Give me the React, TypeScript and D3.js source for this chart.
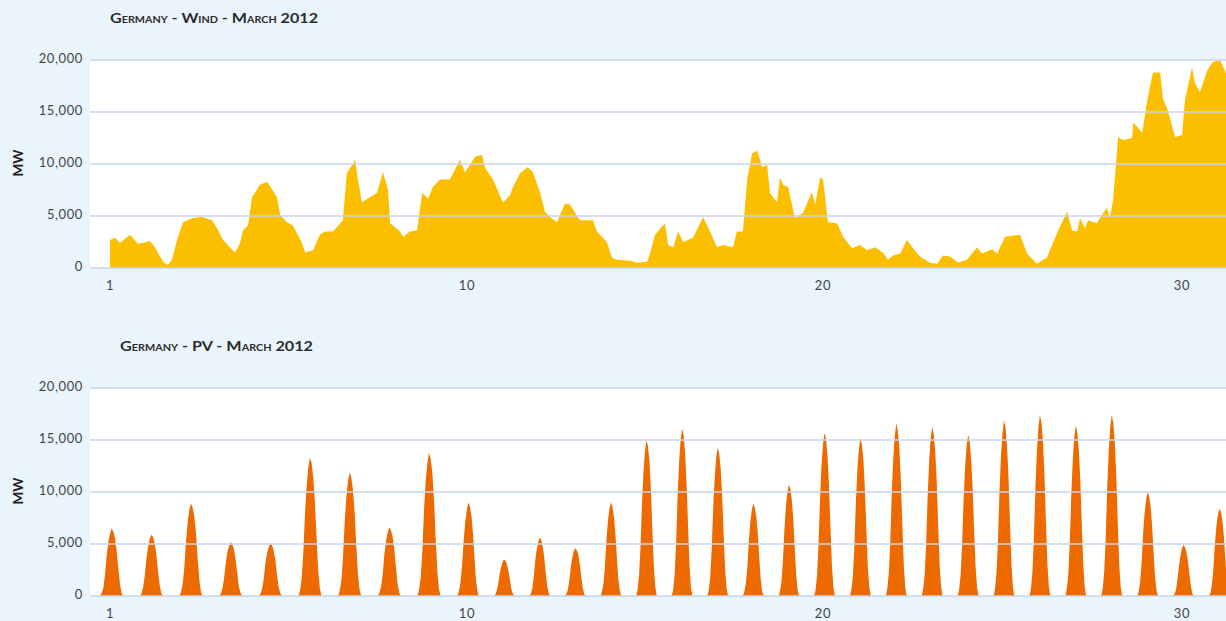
import { useEffect } from 'react';
import * as d3 from 'd3';

// wind: time position (day on the axis) and MW
const windT = [
  1.0, 1.13, 1.25, 1.5, 1.71, 2.01, 2.13, 2.34, 2.46, 2.56, 2.69, 2.84, 3.09, 3.32, 3.57, 3.7, 3.85,
  4.15, 4.28, 4.35, 4.48, 4.58, 4.78, 4.96, 5.21, 5.29, 5.46, 5.61, 5.84, 5.92, 6.12, 6.29, 6.42,
  6.62, 6.87, 6.97, 7.18, 7.25, 7.35, 7.55, 7.73, 7.88, 8.01, 8.06, 8.31, 8.39, 8.56, 8.74, 8.87,
  9.02, 9.14, 9.32, 9.57, 9.65, 9.82, 9.95, 10.23, 10.42, 10.51, 10.73, 11.01, 11.21, 11.29, 11.49,
  11.71, 11.85, 12.05, 12.19, 12.33, 12.53, 12.75, 12.89, 13.17, 13.54, 13.65, 13.93, 14.07, 14.21,
  14.58, 14.78, 15.06, 15.14, 15.28, 15.56, 15.65, 15.79, 15.93, 16.07, 16.35, 16.63, 16.83, 17.02,
  17.19, 17.47, 17.58, 17.75, 17.87, 18.01, 18.15, 18.29, 18.43, 18.51, 18.71, 18.79, 18.88, 19.02,
  19.21, 19.44, 19.55, 19.69, 19.78, 19.92, 20.0, 20.14, 20.39, 20.56, 20.81, 21.03, 21.23, 21.45,
  21.67, 21.81, 21.95, 22.15, 22.34, 22.51, 22.7, 22.98, 23.18, 23.34, 23.54, 23.76, 24.01, 24.29,
  24.43, 24.71, 24.85, 25.07, 25.49, 25.68, 25.96, 26.24, 26.32, 26.55, 26.8, 26.94, 27.08, 27.16,
  27.3, 27.38, 27.63, 27.77, 27.91, 27.99, 28.08, 28.22, 28.36, 28.61, 28.64, 28.77, 28.89, 29.03,
  29.19, 29.39, 29.47, 29.6, 29.81, 30.0, 30.08, 30.28, 30.36, 30.5, 30.7, 30.86, 31.06, 31.23,
  31.5, 31.95,
];
const windMW = [
  2700, 2900, 2400, 3200, 2300, 2600, 2000, 600, 300, 800, 2700, 4400, 4800, 4900, 4600, 3800, 2700,
  1500, 2400, 3600, 4100, 6800, 8000, 8300, 6800, 5100, 4400, 4100, 2400, 1500, 1700, 3200, 3500,
  3500, 4600, 9100, 10400, 8500, 6300, 6800, 7200, 9200, 7500, 4300, 3500, 3000, 3500, 3600, 7200,
  6700, 7800, 8500, 8500, 9100, 10400, 9200, 10700, 10900, 9600, 8500, 6300, 7000, 7800, 9100,
  9700, 9200, 7300, 5400, 4900, 4400, 6200, 6100, 4600, 4600, 3500, 2500, 1000, 800,
  700, 500, 600, 1400, 3200, 4300, 2200, 2000, 3500, 2500, 2900, 4900, 3500, 2000,
  2200, 2000, 3500, 3500, 8500, 11000, 11300, 9700, 9900, 7200, 6300, 8700, 8000, 7800,
  4800, 5300, 6200, 7300, 6100, 8700, 8500, 4400, 4300, 3000, 1900, 2200, 1700, 2000,
  1500, 800, 1200, 1400, 2700, 1900, 1100, 500, 400, 1200, 1100, 500, 800, 2000,
  1400, 1800, 1400, 3000, 3200, 1400, 400, 1000, 1700, 3600, 5400, 3600, 3500, 4800,
  3800, 4600, 4300, 5100, 5800, 4800, 6500, 12600, 12300, 12500, 14000, 13500, 13000, 16100,
  18800, 18800, 16300, 15200, 12600, 12800, 16100, 19300, 17800, 16900, 19000, 19800, 20000, 18700,
  17000, 15500,
];

// PV: hourly MW for hours 6..18 of each day, March 1..31 (zero outside)
const pvHours = [6, 7, 8, 9, 10, 11, 12, 13, 14, 15, 16, 17, 18];
const pvDaily = [
  [300, 800, 2100, 3900, 5200, 6000, 6500, 6200, 5600, 4400, 2700, 1200, 300],
  [200, 800, 1900, 3500, 4700, 5500, 5900, 5700, 5100, 4000, 2500, 1100, 300],
  [400, 1200, 2800, 5300, 7100, 8300, 8900, 8500, 7700, 6100, 3700, 1600, 400],
  [200, 700, 1700, 3100, 4200, 4800, 5200, 5000, 4500, 3500, 2200, 900, 300],
  [200, 700, 1600, 3100, 4100, 4700, 5100, 4900, 4400, 3500, 2100, 900, 300],
  [500, 1700, 4300, 8000, 10600, 12400, 13300, 12800, 11400, 9000, 5600, 2400, 700],
  [500, 1500, 3800, 7100, 9500, 11100, 11900, 11400, 10200, 8100, 5000, 2100, 600],
  [300, 900, 2100, 4000, 5300, 6100, 6600, 6300, 5700, 4500, 2800, 1200, 300],
  [600, 1800, 4400, 8300, 11000, 12800, 13800, 13200, 11900, 9400, 5800, 2500, 700],
  [400, 1200, 2900, 5400, 7200, 8400, 9000, 8600, 7700, 6100, 3800, 1600, 500],
  [100, 500, 1100, 2100, 2800, 3300, 3500, 3400, 3000, 2400, 1500, 600, 200],
  [200, 700, 1800, 3400, 4500, 5200, 5600, 5400, 4800, 3800, 2400, 1000, 300],
  [200, 600, 1500, 2800, 3700, 4300, 4600, 4400, 4000, 3100, 1900, 800, 200],
  [400, 1200, 2900, 5400, 7200, 8400, 9000, 8600, 7700, 6100, 3800, 1600, 500],
  [600, 2000, 4800, 9000, 12000, 14000, 15000, 14400, 12900, 10200, 6300, 2700, 800],
  [600, 2100, 5200, 9700, 12900, 15000, 16100, 15500, 13800, 10900, 6800, 2900, 800],
  [600, 1900, 4600, 8600, 11400, 13300, 14300, 13700, 12300, 9700, 6000, 2600, 700],
  [400, 1200, 2800, 5300, 7100, 8300, 8900, 8500, 7700, 6100, 3700, 1600, 400],
  [400, 1400, 3400, 6400, 8600, 10000, 10700, 10300, 9200, 7300, 4500, 1900, 500],
  [600, 2000, 5000, 9400, 12600, 14600, 15700, 15100, 13500, 10700, 6600, 2800, 800],
  [600, 2000, 4900, 9100, 12200, 14100, 15200, 14600, 13100, 10300, 6400, 2700, 800],
  [700, 2200, 5300, 10000, 13300, 15400, 16600, 15900, 14300, 11300, 7000, 3000, 800],
  [700, 2100, 5200, 9800, 13000, 15200, 16300, 15600, 14000, 11100, 6800, 2900, 800],
  [600, 2000, 5000, 9300, 12400, 14400, 15500, 14900, 13300, 10500, 6500, 2800, 800],
  [700, 2200, 5400, 10100, 13500, 15700, 16900, 16200, 14500, 11500, 7100, 3000, 800],
  [700, 2300, 5600, 10400, 13900, 16200, 17400, 16700, 15000, 11800, 7300, 3100, 900],
  [700, 2100, 5200, 9800, 13100, 15300, 16400, 15700, 14100, 11200, 6900, 3000, 800],
  [700, 2300, 5600, 10400, 13900, 16200, 17400, 16700, 15000, 11800, 7300, 3100, 900],
  [400, 1300, 3200, 6000, 8000, 9300, 10000, 9600, 8600, 6800, 4200, 1800, 500],
  [200, 600, 1600, 2900, 3900, 4600, 4900, 4700, 4200, 3300, 2100, 900, 200],
  [300, 1100, 2700, 5000, 6700, 7800, 8400, 8100, 7200, 5700, 3500, 1500, 400],
];

const yTicks = [0, 5000, 10000, 15000, 20000];
const xTicks = [1, 10, 20, 30];

const W = 1226;
const H = 621;
const FONT = 'Lato, "Open Sans", sans-serif';

// the day axis is not even in the source: days 1-10 are wider than the rest
const x = d3.scaleLinear().domain([1, 10, 20, 30]).range([110, 467, 823, 1182]);

type Pt = [number, number];

const Panel = ({ title, titleX, titleW, top, data, color }: any) => {
  const bottom = top + 208;
  const y = d3.scaleLinear().domain([0, 20000]).range([bottom, top]);
  const area = d3.area<Pt>()
    .x((d) => x(d[0]))
    .y0(y(0))
    .y1((d) => y(d[1]))
    .curve(d3.curveLinear);
  const fmt = d3.format(',');
  return (
    <g>
      <text x={titleX} y={top - 40} fontFamily={FONT} fontWeight="bold" fontSize={13.5}
        style={{ fontVariant: 'small-caps' }} fill="#2b2b2b" dominantBaseline="middle"
        textLength={titleW} lengthAdjust="spacingAndGlyphs">{title}</text>
      <rect x={90} y={top} width={W - 90} height={208} fill="#ffffff" />
      <path d={area(data) || ''} fill={color} />
      {yTicks.map((t) => (
        <g key={t}>
          <line x1={90} x2={W} y1={y(t)} y2={y(t)} stroke="#c9d3ec" strokeWidth={1.5} />
          <text x={83} y={y(t)} textAnchor="end" dominantBaseline="middle" fontFamily={FONT}
            fontSize={13} letterSpacing={0.6} fill="#444">{fmt(t)}</text>
        </g>
      ))}
      {xTicks.map((t) => (
        <text key={t} x={x(t)} y={bottom + 19} textAnchor="middle" dominantBaseline="middle"
          fontFamily={FONT} fontSize={13} letterSpacing={0.6} fill="#444">{t}</text>
      ))}
      <text transform={`translate(20,${(top + bottom) / 2 - 1}) rotate(-90)`} textAnchor="middle"
        dominantBaseline="middle" fontFamily={FONT} fontWeight="bold" fontSize={13.5} fill="#222">MW</text>
    </g>
  );
};

const App = () => {
  useEffect(() => {
    document.body.style.margin = '0';
  }, []);

  const windPts: Pt[] = windT.map((t, i) => [t, windMW[i]]);

  const pvPts: Pt[] = [];
  pvDaily.forEach((row, i) => {
    const day = i + 1;
    pvPts.push([day + (pvHours[0] - 1 - 11) / 24, 0]);
    row.forEach((v, j) => pvPts.push([day + (pvHours[j] - 11) / 24, v]));
    pvPts.push([day + (pvHours[pvHours.length - 1] + 1 - 11) / 24, 0]);
  });

  return (
    <svg width={W} height={H} style={{ display: 'block', position: 'absolute', left: 0, top: 0 }}>
      <rect width={W} height={H} fill="#eaf4fb" />
      <Panel title="Germany - Wind - March 2012" titleX={110} titleW={208} top={60} data={windPts} color="#fbbf00" />
      <Panel title="Germany - PV - March 2012" titleX={120} titleW={193} top={388} data={pvPts} color="#ec6a00" />
    </svg>
  );
};

export default App;
